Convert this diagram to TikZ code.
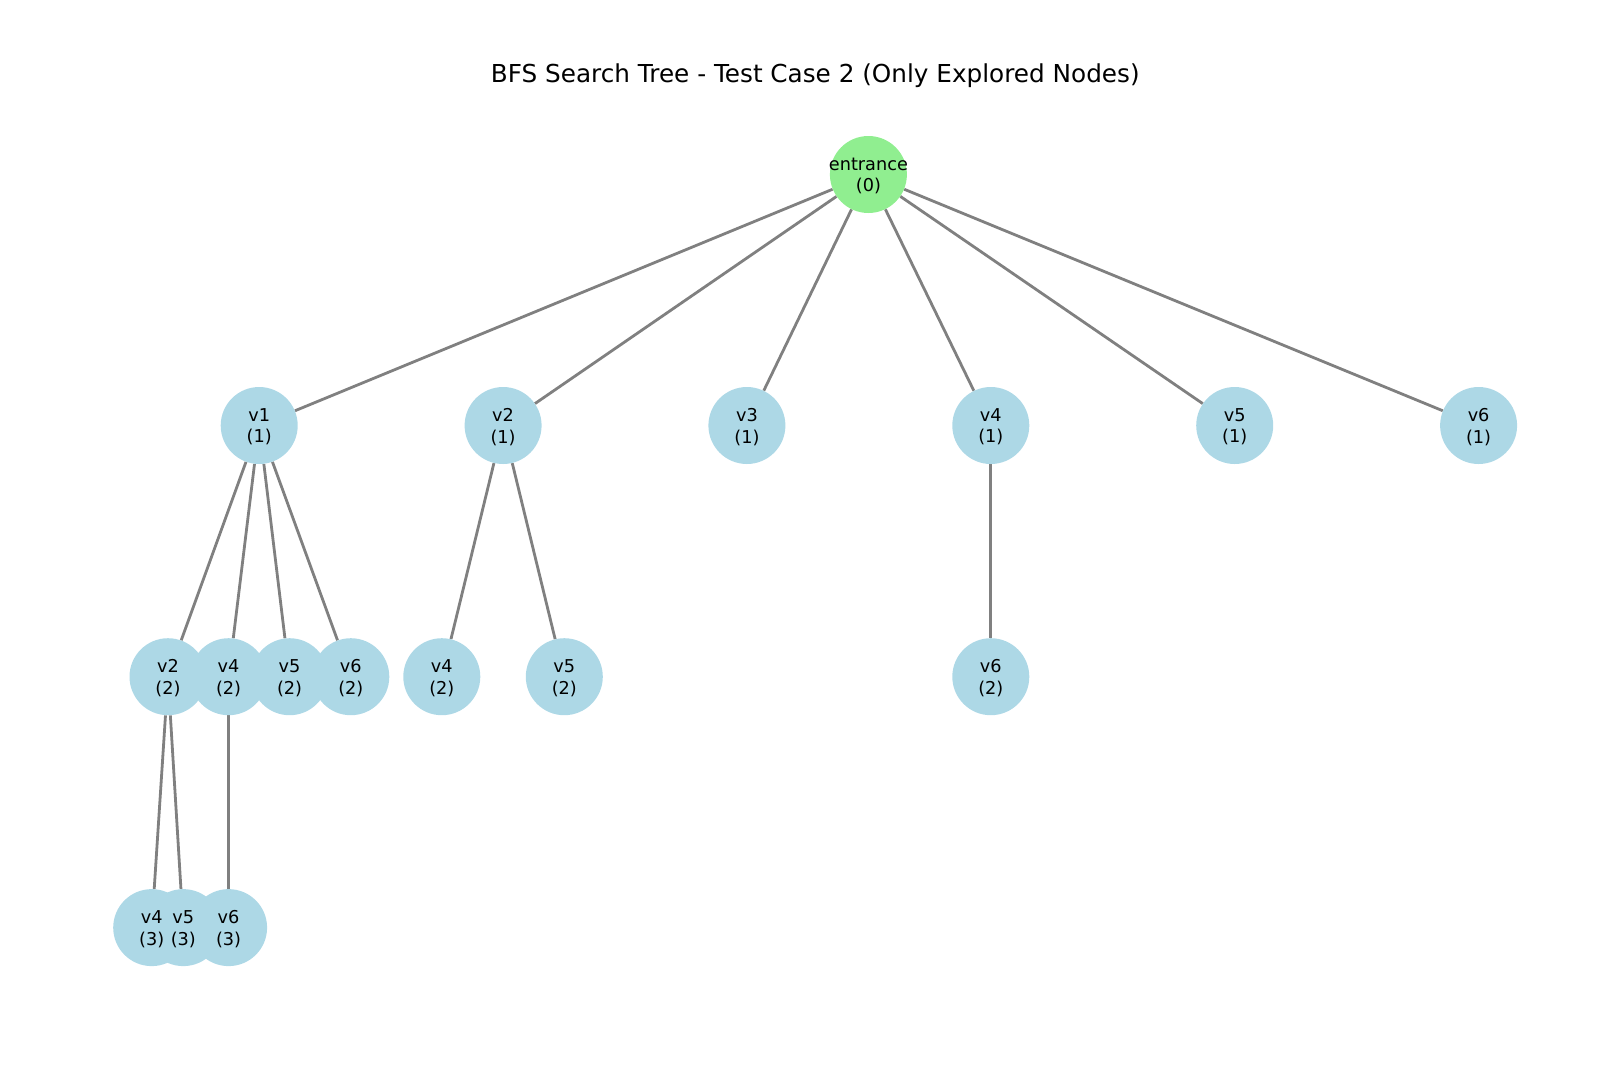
\documentclass[tikz,border=0pt]{standalone}
\usepackage{fontspec}
\setmainfont{DejaVu Sans}
\usetikzlibrary{backgrounds}
\definecolor{nodeblue}{RGB}{173,216,230}
\definecolor{nodegreen}{RGB}{144,238,144}
\definecolor{edgegray}{RGB}{128,128,128}
\tikzset{
  tnode/.style={circle, fill=nodeblue, draw=none, minimum size=77pt, inner sep=0pt},
  rootnode/.style={tnode, fill=nodegreen},
  tlabel/.style={inner sep=0pt, align=center, font=\fontsize{17.7}{21.4}\selectfont, yshift=-1.5pt},
  edge/.style={draw=edgegray, line width=2.8pt}
}
\begin{document}
\begin{tikzpicture}[x=1pt,y=-1pt]
\useasboundingbox (0,0) rectangle (1600,1088);
\node[font=\fontsize{24.7}{29}\selectfont] (title) at (815.3,76) {BFS Search Tree - Test Case 2 (Only Explored Nodes)};
% level 0
\node[rootnode] (e) at (868.4,174.5) {};
% level 1
\node[tnode] (a1) at (259.2,425.5) {};
\node[tnode] (a2) at (503.1,425.5) {};
\node[tnode] (a3) at (746.9,425.5) {};
\node[tnode] (a4) at (990.8,425.5) {};
\node[tnode] (a5) at (1234.7,425.5) {};
\node[tnode] (a6) at (1478.6,425.5) {};
% level 2
\node[tnode] (b12) at (168.0,676.7) {};
\node[tnode] (b14) at (228.6,676.7) {};
\node[tnode] (b15) at (289.6,676.7) {};
\node[tnode] (b16) at (350.8,676.7) {};
\node[tnode] (b24) at (441.8,676.7) {};
\node[tnode] (b25) at (564.3,676.7) {};
\node[tnode] (b46) at (990.8,676.7) {};
% level 3
\node[tnode] (c4) at (151.7,927.6) {};
\node[tnode] (c5) at (183.3,927.6) {};
\node[tnode] (c6) at (228.6,927.6) {};
% labels
\node[tlabel] (le) at (e.center) {entrance\\(0)};
\node[tlabel] (la1) at (a1.center) {v1\\(1)};
\node[tlabel] (la2) at (a2.center) {v2\\(1)};
\node[tlabel] (la3) at (a3.center) {v3\\(1)};
\node[tlabel] (la4) at (a4.center) {v4\\(1)};
\node[tlabel] (la5) at (a5.center) {v5\\(1)};
\node[tlabel] (la6) at (a6.center) {v6\\(1)};
\node[tlabel] (lb12) at (b12.center) {v2\\(2)};
\node[tlabel] (lb14) at (b14.center) {v4\\(2)};
\node[tlabel] (lb15) at (b15.center) {v5\\(2)};
\node[tlabel] (lb16) at (b16.center) {v6\\(2)};
\node[tlabel] (lb24) at (b24.center) {v4\\(2)};
\node[tlabel] (lb25) at (b25.center) {v5\\(2)};
\node[tlabel] (lb46) at (b46.center) {v6\\(2)};
\node[tlabel] (lc4) at (c4.center) {v4\\(3)};
\node[tlabel] (lc5) at (c5.center) {v5\\(3)};
\node[tlabel] (lc6) at (c6.center) {v6\\(3)};
\begin{scope}[on background layer]
\foreach \t in {a1,a2,a3,a4,a5,a6} \draw[edge] (e) -- (\t);
\foreach \t in {b12,b14,b15,b16} \draw[edge] (a1) -- (\t);
\draw[edge] (a2) -- (b24);
\draw[edge] (a2) -- (b25);
\draw[edge] (a4) -- (b46);
\draw[edge] (b12) -- (c4);
\draw[edge] (b12) -- (c5);
\draw[edge] (b14) -- (c6);
\end{scope}
\end{tikzpicture}
\end{document}
